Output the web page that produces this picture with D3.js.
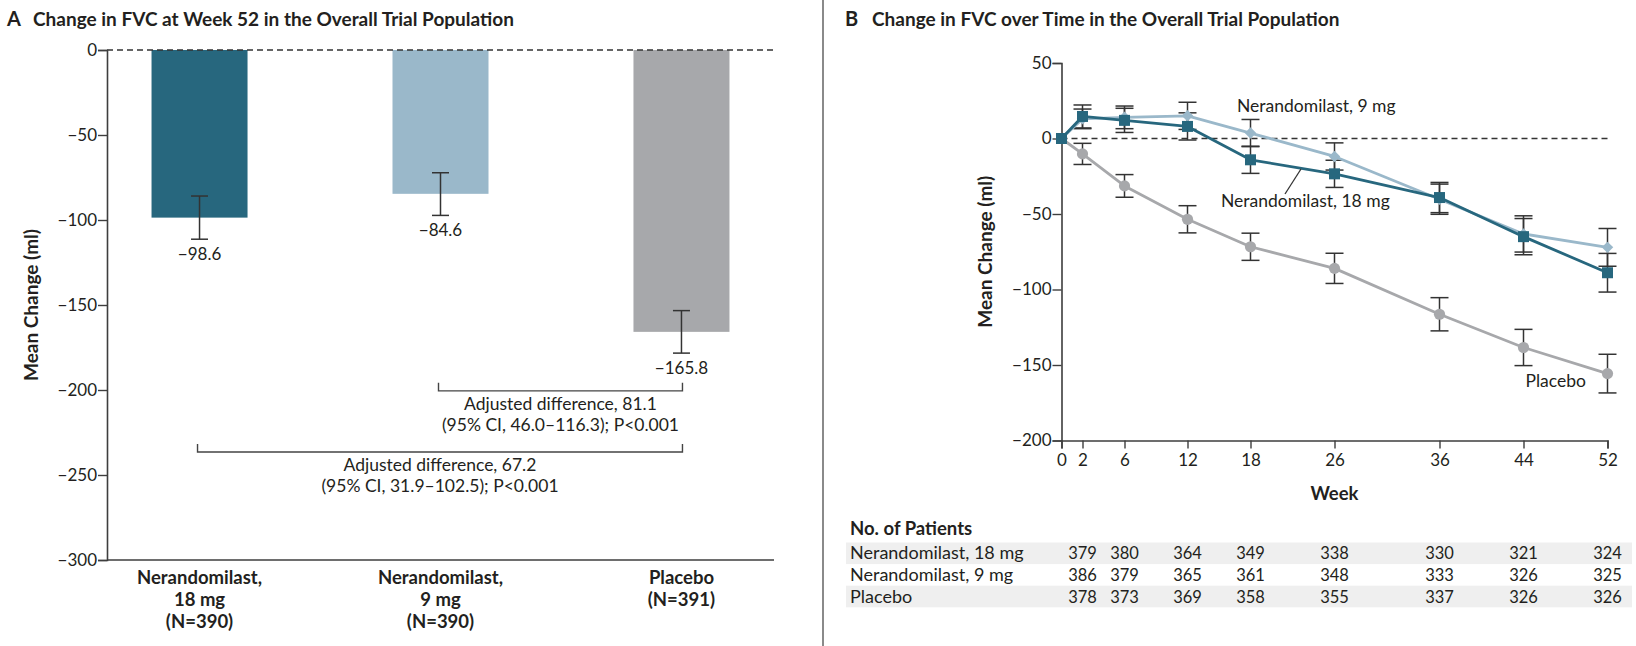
<!DOCTYPE html>
<html>
<head>
<meta charset="utf-8">
<script src="https://cdn.jsdelivr.net/npm/d3@7"></script>
<style>
  html, body { margin: 0; padding: 0; background: #ffffff; }
  svg { display: block; font-family: Lato, "Open Sans", sans-serif; }
</style>
</head>
<body>
<svg id="chart" width="1636" height="646"></svg>
<script>
// ---------------- DATA ----------------
// Panel A
const groups = ["Nerandomilast, 18 mg", "Nerandomilast, 9 mg", "Placebo"];
const barMeans = [-98.6, -84.6, -165.8];
const barCIHigh = [-85.9, -72.2, -153.3];
const barCILow = [-111.3, -97.3, -178.3];
const barLabels = ["\u221298.6", "\u221284.6", "\u2212165.8"];
const groupLabelLines = [["Nerandomilast,", "18 mg", "(N=390)"], ["Nerandomilast,", "9 mg", "(N=390)"], ["Placebo", "(N=391)"]];
const yTicksA = [0, -50, -100, -150, -200, -250, -300];
const diffFrom = [1, 0];
const diffTo = [2, 2];
const diffLevel = [-200.5, -236.5];
const diffText = [
  ["Adjusted difference, 81.1", "(95% CI, 46.0\u2013116.3); P<0.001"],
  ["Adjusted difference, 67.2", "(95% CI, 31.9\u2013102.5); P<0.001"]
];

// Panel B
const weeks = [0, 2, 6, 12, 18, 26, 36, 44, 52];
const mean18 = [0, 14.6, 12, 8, -14.1, -23.4, -39.1, -65, -88.9];
const mean9 = [0, 13, 14, 15, 3.6, -11.9, -40.2, -63.2, -72.1];
const meanPbo = [0, -10.2, -31.4, -53.5, -71.7, -86, -116.4, -138.4, -155.7];
const se18 = [0, 7.6, 8, 9, 9, 9, 10, 12, 12.8];
const se9 = [0, 6.5, 7.5, 9, 9, 9, 10, 12, 12.5];
const sePbo = [0, 7, 7.5, 9, 9, 10, 11, 12, 12.8];
const yTicksB = [50, 0, -50, -100, -150, -200];
const countWeeks = [2, 6, 12, 18, 26, 36, 44, 52];
const count18 = [379, 380, 364, 349, 338, 330, 321, 324];
const count9 = [386, 379, 365, 361, 348, 333, 326, 325];
const countPbo = [378, 373, 369, 358, 355, 337, 326, 326];
const tableRows = ["Nerandomilast, 18 mg", "Nerandomilast, 9 mg", "Placebo"];

// ---------------- STYLE ----------------
const C18 = "#27677e", C9 = "#9ab8ca", CPBO = "#a7a8ab";
const INK = "#231f20", AXIS = "#3e3e3e", ERR = "#333333";
const FS_TXT = 17.5, FS_TICK = 17, FS_BOLD = 18.5, FS_TITLE = 19;
const fmt = d => d === 0 ? "0" : (d < 0 ? "\u2212" + Math.abs(d) : String(d));

const svg = d3.select("#chart");

// ================= PANEL A =================
const gA = svg.append("g");
const yA = d3.scaleLinear().domain([-300, 0]).range([560, 50]);
const xA = d3.scalePoint().domain(groups).range([107, 774]).padding(0.384);
const barW = 96;

gA.append("text").attr("x", 7).attr("y", 26)
  .attr("font-weight", 700).attr("font-size", 20).attr("fill", INK).text("A");
gA.append("text").attr("x", 33).attr("y", 26)
  .attr("font-weight", 700).attr("font-size", FS_TITLE).attr("fill", INK)
  .text("Change in FVC at Week 52 in the Overall Trial Population");

// bars
gA.selectAll("rect.bar").data(groups).join("rect")
  .attr("class", "bar")
  .attr("x", d => xA(d) - barW / 2)
  .attr("y", yA(0))
  .attr("width", barW)
  .attr("height", (d, i) => yA(barMeans[i]) - yA(0))
  .attr("fill", (d, i) => [C18, C9, CPBO][i]);

// zero dashed line
gA.append("line").attr("x1", xA.range()[0]).attr("x2", xA.range()[1])
  .attr("y1", yA(0)).attr("y2", yA(0))
  .attr("stroke", "#333").attr("stroke-width", 1.3).attr("stroke-dasharray", "6,4");

// error bars
const eA = gA.selectAll("g.err").data(groups).join("g").attr("class", "err")
  .attr("stroke", ERR).attr("stroke-width", 1.5);
eA.append("line").attr("x1", d => xA(d)).attr("x2", d => xA(d))
  .attr("y1", (d, i) => yA(barCIHigh[i])).attr("y2", (d, i) => yA(barCILow[i]));
eA.append("line").attr("x1", d => xA(d) - 8.5).attr("x2", d => xA(d) + 8.5)
  .attr("y1", (d, i) => yA(barCIHigh[i])).attr("y2", (d, i) => yA(barCIHigh[i]));
eA.append("line").attr("x1", d => xA(d) - 8.5).attr("x2", d => xA(d) + 8.5)
  .attr("y1", (d, i) => yA(barCILow[i])).attr("y2", (d, i) => yA(barCILow[i]));

// value labels
gA.selectAll("text.val").data(groups).join("text").attr("class", "val")
  .attr("x", d => xA(d)).attr("y", (d, i) => yA(barCILow[i]) + 21)
  .attr("text-anchor", "middle").attr("font-size", FS_TICK).attr("fill", INK)
  .text((d, i) => barLabels[i]);

// y axis
const axA = gA.append("g").attr("transform", "translate(107,0)")
  .call(d3.axisLeft(yA).tickValues(yTicksA).tickFormat(fmt).tickSize(9).tickPadding(1));
axA.select(".domain").attr("stroke", AXIS).attr("stroke-width", 1.6);
axA.selectAll(".tick line").attr("stroke", AXIS).attr("stroke-width", 1.4);
axA.selectAll(".tick text").attr("font-size", FS_TICK).attr("fill", INK).attr("font-family", "Lato");

// x baseline
gA.append("line").attr("x1", xA.range()[0]).attr("x2", xA.range()[1])
  .attr("y1", yA(-300)).attr("y2", yA(-300)).attr("stroke", AXIS).attr("stroke-width", 1.6);

// category labels
groups.forEach((g, i) => {
  const t = gA.append("text").attr("text-anchor", "middle")
    .attr("font-weight", 700).attr("font-size", FS_BOLD).attr("fill", INK);
  groupLabelLines[i].forEach((ln, j) => {
    t.append("tspan").attr("x", xA(g)).attr("y", yA(-300) + 24 + j * 22).text(ln);
  });
});

// y axis title
gA.append("text").attr("transform", `translate(38,${(yA(0) + yA(-300)) / 2}) rotate(-90)`)
  .attr("text-anchor", "middle").attr("font-weight", 700).attr("font-size", 19).attr("fill", INK)
  .text("Mean Change (ml)");

// comparison brackets
diffLevel.forEach((lv, k) => {
  const x1 = xA(groups[diffFrom[k]]) - 2, x2 = xA(groups[diffTo[k]]) + 1, y = yA(lv);
  gA.append("path")
    .attr("d", `M${x1},${y - 8}V${y}H${x2}V${y - 8}`)
    .attr("fill", "none").attr("stroke", "#444").attr("stroke-width", 1.4);
  const t = gA.append("text").attr("text-anchor", "middle").attr("font-size", FS_TXT).attr("fill", INK);
  diffText[k].forEach((ln, j) => {
    t.append("tspan").attr("x", (x1 + x2) / 2).attr("y", y + 19 + j * 21).text(ln);
  });
});

// divider
svg.append("line").attr("x1", 823).attr("x2", 823).attr("y1", 0).attr("y2", 646)
  .attr("stroke", "#8a8a8a").attr("stroke-width", 2);

// ================= PANEL B =================
const gB = svg.append("g");
const xB = d3.scaleLinear().domain([0, 52]).range([1061.5, 1607.5]);
const yB = d3.scaleLinear().domain([-200, 50]).range([440.5, 63]);

gB.append("text").attr("x", 845).attr("y", 26)
  .attr("font-weight", 700).attr("font-size", 20).attr("fill", INK).text("B");
gB.append("text").attr("x", 872).attr("y", 26)
  .attr("font-weight", 700).attr("font-size", FS_TITLE).attr("fill", INK)
  .text("Change in FVC over Time in the Overall Trial Population");

// zero dashed
gB.append("line").attr("x1", xB(0)).attr("x2", xB(52))
  .attr("y1", yB(0)).attr("y2", yB(0))
  .attr("stroke", "#333").attr("stroke-width", 1.3).attr("stroke-dasharray", "6,4");

// axes
const axBy = gB.append("g").attr("transform", `translate(${xB(0)},0)`)
  .call(d3.axisLeft(yB).tickValues(yTicksB).tickFormat(fmt).tickSize(9).tickPadding(1));
const axBx = gB.append("g").attr("transform", `translate(0,${yB(-200)})`)
  .call(d3.axisBottom(xB).tickValues(weeks).tickFormat(d3.format("d")).tickSize(8).tickPadding(5));
[axBy, axBx].forEach(a => {
  a.select(".domain").attr("stroke", AXIS).attr("stroke-width", 1.6);
  a.selectAll(".tick line").attr("stroke", AXIS).attr("stroke-width", 1.4);
  a.selectAll(".tick text").attr("font-size", FS_TICK).attr("fill", INK).attr("font-family", "Lato");
});

gB.append("text").attr("transform", `translate(992,${(yB(50) + yB(-200)) / 2}) rotate(-90)`)
  .attr("text-anchor", "middle").attr("font-weight", 700).attr("font-size", 19).attr("fill", INK)
  .text("Mean Change (ml)");
gB.append("text").attr("x", (xB(0) + xB(52)) / 2).attr("y", 500)
  .attr("text-anchor", "middle").attr("font-weight", 700).attr("font-size", FS_BOLD).attr("fill", INK)
  .text("Week");

const series = [
  { key: "pbo", mean: meanPbo, se: sePbo, color: CPBO, sym: "circle" },
  { key: "9", mean: mean9, se: se9, color: C9, sym: "diamond" },
  { key: "18", mean: mean18, se: se18, color: C18, sym: "square" }
];

// error bars (all)
series.forEach(s => {
  const g = gB.append("g").attr("stroke", ERR).attr("stroke-width", 1.5);
  weeks.forEach((w, i) => {
    if (s.se[i] <= 0) return;
    const x = xB(w), hi = yB(s.mean[i] + s.se[i]), lo = yB(s.mean[i] - s.se[i]);
    g.append("line").attr("x1", x).attr("x2", x).attr("y1", hi).attr("y2", lo);
    g.append("line").attr("x1", x - 9).attr("x2", x + 9).attr("y1", hi).attr("y2", hi);
    g.append("line").attr("x1", x - 9).attr("x2", x + 9).attr("y1", lo).attr("y2", lo);
  });
});

const line = d3.line().x(d => xB(d[0])).y(d => yB(d[1]));
series.forEach(s => {
  const pts = weeks.map((w, i) => [w, s.mean[i]]);
  gB.append("path").attr("d", line(pts)).attr("fill", "none")
    .attr("stroke", s.color).attr("stroke-width", 2.8).attr("stroke-linejoin", "round");
});
series.forEach(s => {
  const pts = weeks.map((w, i) => [w, s.mean[i]]);
  const g = gB.append("g").attr("fill", s.color);
  pts.forEach(p => {
    const x = xB(p[0]), y = yB(p[1]);
    if (s.sym === "circle") {
      g.append("circle").attr("cx", x).attr("cy", y).attr("r", 5.6);
    } else if (s.sym === "square") {
      g.append("path").attr("d", d3.symbol(d3.symbolSquare, 121)())
        .attr("transform", `translate(${x},${y})`);
    } else {
      g.append("path").attr("d", d3.symbol(d3.symbolSquare, 66)())
        .attr("transform", `translate(${x},${y}) rotate(45)`);
    }
  });
});

// series labels
gB.append("text").attr("x", 1237).attr("y", 111.5).attr("font-size", FS_TXT).attr("fill", INK)
  .text("Nerandomilast, 9 mg");
gB.append("text").attr("x", 1221).attr("y", 206.5).attr("font-size", FS_TXT).attr("fill", INK)
  .text("Nerandomilast, 18 mg");
gB.append("line").attr("x1", 1285).attr("y1", 194).attr("x2", 1301).attr("y2", 169)
  .attr("stroke", "#333").attr("stroke-width", 1.3);
gB.append("text").attr("x", 1525.5).attr("y", 387).attr("font-size", FS_TXT).attr("fill", INK)
  .text("Placebo");

// Number at risk table
gB.append("text").attr("x", 850).attr("y", 535).attr("font-weight", 700).attr("font-size", FS_BOLD)
  .attr("fill", INK).text("No. of Patients");
const counts = [count18, count9, countPbo];
tableRows.forEach((r, k) => {
  const top = 542.5 + k * 21.6;
  if (k % 2 === 0) {
    gB.append("rect").attr("x", 846).attr("y", top).attr("width", 786).attr("height", 21.6)
      .attr("fill", "#efefef");
  }
  gB.append("text").attr("x", 850).attr("y", top + 16.8).attr("font-size", 18).attr("fill", INK).text(r);
  gB.selectAll(null).data(countWeeks).join("text")
    .attr("x", w => xB(w)).attr("y", top + 16.8)
    .attr("text-anchor", "middle").attr("font-size", 16.5).attr("fill", INK)
    .text((w, i) => counts[k][i]);
});
</script>
</body>
</html>
